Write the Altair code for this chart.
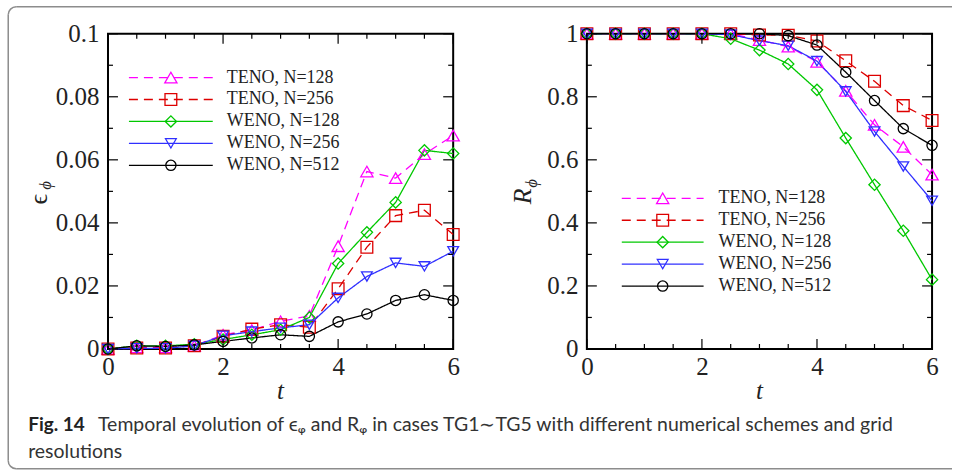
import altair as alt
import pandas as pd

# ---- data -------------------------------------------------------------
T = [0, 0.5, 1, 1.5, 2, 2.5, 3, 3.5, 4, 4.5, 5, 5.5, 6]

SERIES = ["TENO, N=128", "TENO, N=256", "WENO, N=128", "WENO, N=256", "WENO, N=512"]
COLORS = ["#ff00ff", "#dd0000", "#00c800", "#3030ff", "#000000"]
SHAPES = ["triangle-up", "square", "diamond", "triangle-down", "circle"]
SIZES = [150, 105, 170, 150, 150]
DASHES = [[9, 6], [9, 6], [1, 0], [1, 0], [1, 0]]

EPS_TENO128 = [0, 0.0005, 0.0005, 0.001, 0.0045, 0.006, 0.0088, 0.0105, 0.0326, 0.0563, 0.0542, 0.0618, 0.0677]
EPS_TENO256 = [0, 0.0003, 0.0003, 0.001, 0.004, 0.0063, 0.0077, 0.0069, 0.0191, 0.0323, 0.0423, 0.0440, 0.0363]
EPS_WENO128 = [0, 0.001, 0.001, 0.0015, 0.003, 0.0045, 0.0061, 0.0100, 0.0271, 0.0370, 0.0465, 0.0630, 0.0620]
EPS_WENO256 = [0, 0.0002, 0.0002, 0.001, 0.0042, 0.0055, 0.0067, 0.0077, 0.0162, 0.0230, 0.0273, 0.0262, 0.0310]
EPS_WENO512 = [0, 0.001, 0.0008, 0.0013, 0.0024, 0.0035, 0.0045, 0.0040, 0.0086, 0.0111, 0.0154, 0.0172, 0.0154]

R_TENO128 = [1, 1, 1, 1, 1, 1, 0.980, 0.959, 0.911, 0.819, 0.711, 0.641, 0.553]
R_TENO256 = [1, 1, 1, 1, 1, 1, 0.996, 0.995, 0.977, 0.914, 0.849, 0.772, 0.725]
R_WENO128 = [1, 1, 1, 1, 1, 0.984, 0.948, 0.904, 0.822, 0.669, 0.521, 0.375, 0.220]
R_WENO256 = [1, 1, 1, 1, 1, 0.997, 0.978, 0.962, 0.913, 0.817, 0.690, 0.579, 0.470]
R_WENO512 = [1, 1, 1, 1, 1, 1, 1, 0.994, 0.964, 0.878, 0.788, 0.699, 0.646]

X_MAJOR = [0, 2, 4, 6]
X_MINOR = [0.5, 1, 1.5, 2.5, 3, 3.5, 4.5, 5, 5.5]
EPS_MAJOR = [0, 0.02, 0.04, 0.06, 0.08, 0.1]
EPS_MINOR = [0.01, 0.03, 0.05, 0.07, 0.09]
R_MAJOR = [0, 0.2, 0.4, 0.6, 0.8, 1]
R_MINOR = [0.1, 0.3, 0.5, 0.7, 0.9]

CAPTION_BOLD = "Fig. 14"
CAPTION_1 = "Temporal evolution of ϵᵩ and Rᵩ in cases TG1∼TG5 with different numerical schemes and grid"
CAPTION_2 = "resolutions"

# ---- layout constants ---------------------------------------------------
W, H = 346, 316
MAJ, MIN = 10, 5
SERIF = "Liberation Serif"
SANS = "Lato"


def long_table(cols):
    rows = []
    for name, vals in zip(SERIES, cols):
        for t, v in zip(T, vals):
            rows.append({"t": t, "v": v, "series": name})
    return pd.DataFrame(rows)


def legend_table(x0, x1, xm, xt, y0, dy):
    return pd.DataFrame({
        "series": SERIES,
        "x0": [x0] * 5, "x1": [x1] * 5, "xm": [xm] * 5, "xt": [xt] * 5,
        "y": [y0 + i * dy for i in range(5)],
    })


color = alt.Color("series:N", scale=alt.Scale(domain=SERIES, range=COLORS), legend=None)
dash = alt.StrokeDash("series:N", scale=alt.Scale(domain=SERIES, range=DASHES), legend=None)
shape = alt.Shape("series:N", scale=alt.Scale(domain=SERIES, range=SHAPES), legend=None)
size = alt.Size("series:N", scale=alt.Scale(domain=SERIES, range=SIZES), legend=None)


def panel(df, leg, ydom, ymaj, ymin, ytitle):
    xs = alt.Scale(domain=[0, 6], nice=False, zero=False)
    ys = alt.Scale(domain=ydom, nice=False, zero=False)
    x_ax = alt.Axis(values=X_MAJOR, title=None, labelPadding=6, labelFlush=False)
    y_ax = alt.Axis(values=ymaj, title=None, format="~g", labelPadding=9, labelFlush=False)

    def X(field):
        return alt.X(field, type="quantitative", scale=xs, axis=x_ax, title=None)

    def Y(field):
        return alt.Y(field, type="quantitative", scale=ys, axis=y_ax, title=None)

    base = alt.Chart(df)
    lines = base.mark_line(strokeWidth=1.3).encode(
        x=X("t"), y=Y("v"), color=color, strokeDash=dash, detail="series:N",
    )
    points = base.mark_point(filled=False, strokeWidth=1.3, opacity=1).encode(
        x=X("t"), y=Y("v"), color=color, shape=shape, size=size,
    )

    # legend drawn inside the frame
    lb = alt.Chart(leg)
    leg_lines = lb.mark_rule(strokeWidth=1.3).encode(
        x=X("x0"), x2="x1:Q", y=Y("y"), color=color, strokeDash=dash,
    )
    leg_pts = lb.mark_point(filled=False, strokeWidth=1.3, opacity=1).encode(
        x=X("xm"), y=Y("y"), color=color, shape=shape, size=size,
    )
    leg_txt = lb.mark_text(align="left", baseline="middle", font=SERIF,
                           fontSize=18, color="#222").encode(
        x=X("xt"), y=Y("y"), text="series:N",
    )

    # inward ticks on all four sides
    def xticks(vals, length):
        d = alt.Chart(pd.DataFrame({"t": vals}))
        bot = d.mark_rule(color="#000", strokeWidth=1.2).encode(
            x=X("t"), y=alt.value(H), y2=alt.value(H - length))
        top = d.mark_rule(color="#000", strokeWidth=1.2).encode(
            x=X("t"), y=alt.value(0), y2=alt.value(length))
        return [bot, top]

    def yticks(vals, length):
        d = alt.Chart(pd.DataFrame({"v": vals}))
        lft = d.mark_rule(color="#000", strokeWidth=1.2).encode(
            y=Y("v"), x=alt.value(0), x2=alt.value(length))
        rgt = d.mark_rule(color="#000", strokeWidth=1.2).encode(
            y=Y("v"), x=alt.value(W), x2=alt.value(W - length))
        return [lft, rgt]

    ticks = xticks(X_MAJOR, MAJ) + xticks(X_MINOR, MIN) + yticks(ymaj, MAJ) + yticks(ymin, MIN)

    # axis titles
    t_title = alt.Chart().mark_text(text="t", font=SERIF, fontStyle="italic", fontSize=25,
                                    color="#222").encode(x=alt.value(W / 2), y=alt.value(H + 42))
    main, sub, (mx, my), (sx, sy), style = ytitle
    y_main = alt.Chart().mark_text(text=main, font=SERIF, fontStyle=style, fontSize=26, angle=270,
                                   color="#222").encode(x=alt.value(mx), y=alt.value(my))
    y_sub = alt.Chart().mark_text(text=sub, font=SERIF, fontStyle="italic", fontSize=17, angle=270,
                                  color="#222").encode(x=alt.value(sx), y=alt.value(sy))

    return [lines, points, leg_lines, leg_pts, leg_txt, t_title, y_main, y_sub] + ticks


df_eps = long_table([EPS_TENO128, EPS_TENO256, EPS_WENO128, EPS_WENO256, EPS_WENO512])
df_r = long_table([R_TENO128, R_TENO256, R_WENO128, R_WENO256, R_WENO512])

leg_eps = legend_table(0.364, 1.821, 1.093, 2.064, 0.0861, -0.00696)
leg_r = legend_table(0.607, 2.029, 1.318, 2.289, 0.478, -0.0696)

left_layers = panel(df_eps, leg_eps, [0, 0.1], EPS_MAJOR, EPS_MINOR,
                    ("ϵ", "ϕ", (-69, 166), (-62, 152), "normal"))
right_layers = panel(df_r, leg_r, [0, 1], R_MAJOR, R_MINOR,
                     ("R", "ϕ", (-64, 163), (-55, 150), "italic"))

# figure frame with rounded left corners, and the caption beneath the panels
BL, BT, BB, BR, RAD = -100, -27, 436, 846, 8
frame_col = "#8c8c8c"
frame = [
    alt.Chart().mark_rule(color=frame_col, strokeWidth=1.5).encode(
        x=alt.value(BL + RAD), x2=alt.value(BR), y=alt.value(BT)),
    alt.Chart().mark_rule(color=frame_col, strokeWidth=1.5).encode(
        x=alt.value(BL + RAD), x2=alt.value(BR), y=alt.value(BB)),
    alt.Chart().mark_rule(color=frame_col, strokeWidth=1.5).encode(
        x=alt.value(BL), y=alt.value(BT + RAD), y2=alt.value(BB - RAD)),
    alt.Chart().mark_arc(color=frame_col, radius=RAD + 0.75, radius2=RAD - 0.75,
                         theta=4.712389, theta2=6.283185).encode(
        x=alt.value(BL + RAD), y=alt.value(BT + RAD)),
    alt.Chart().mark_arc(color=frame_col, radius=RAD + 0.75, radius2=RAD - 0.75,
                         theta=3.141593, theta2=4.712389).encode(
        x=alt.value(BL + RAD), y=alt.value(BB - RAD)),
]
caption = [
    alt.Chart().mark_text(text=CAPTION_BOLD, font=SANS, fontWeight="bold", fontSize=19,
                          align="left", baseline="middle", color="#222").encode(
        x=alt.value(-80), y=alt.value(392)),
    alt.Chart().mark_text(text=CAPTION_1, font=SANS, fontSize=19.5,
                          align="left", baseline="middle", color="#333").encode(
        x=alt.value(-10), y=alt.value(392)),
    alt.Chart().mark_text(text=CAPTION_2, font=SANS, fontSize=19.5,
                          align="left", baseline="middle", color="#333").encode(
        x=alt.value(-80), y=alt.value(419)),
]

left = alt.layer(*(left_layers + frame + caption)).properties(width=W, height=H)
right = alt.layer(*right_layers).properties(width=W, height=H)

chart = alt.hconcat(left, right, spacing=134, bounds="flush").properties(
    padding={"left": 6.25, "top": 4.25, "right": 0, "bottom": 0},
    background="white",
).configure_view(
    stroke="#000", strokeWidth=2
).configure_axis(
    domain=False, ticks=False, grid=False,
    labelFont=SERIF, labelFontSize=25, labelColor="#222",
)

chart.save("out.html", embed_options={"renderer": "svg", "actions": False})
